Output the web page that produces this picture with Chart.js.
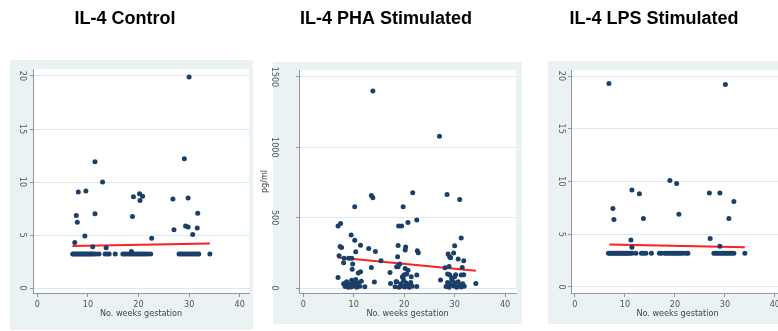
<!DOCTYPE html>
<html lang="en">
<head>
<meta charset="UTF-8">
<title>IL-4 | semanas de gestação</title>
<script src="https://cdn.jsdelivr.net/npm/chart.js"></script>
<style>
  body { margin: 0; background: #fff; width: 778px; height: 331px; overflow: hidden; position: relative; }
  .caixa { position: absolute; background: #eaf2f3; }
  canvas { position: absolute; top: 0; }
</style>
</head>
<body>
<div class="caixa" style="left:10px; top:60px; width:243px; height:270px"></div>
<div class="caixa" style="left:273px; top:62px; width:249px; height:262px"></div>
<div class="caixa" style="left:548px; top:61px; width:240px; height:263px"></div>
<canvas id="grafControle" width="253" height="331" style="left:0px"></canvas>
<canvas id="grafPHA" width="268" height="331" style="left:252px"></canvas>
<canvas id="grafLPS" width="268" height="331" style="left:520px"></canvas>

<script>
const xTicks = [0, 10, 20, 30, 40];
const ilTicks = [0, 5, 10, 15, 20];
const phaTicks = [0, 500, 1000, 1500];

const controleSemanas = [30.0, 29.05, 11.4, 12.9, 8.1, 9.6, 7.7, 7.9, 11.4, 9.4, 7.4, 10.95, 13.6, 19.0, 20.2, 20.8, 20.3, 18.8, 22.6, 18.6, 26.8, 29.8, 27.0, 29.3, 29.8, 31.7, 31.6, 30.7,
  7.0, 7.3, 7.6, 7.9, 8.2, 8.5, 8.8, 9.1, 9.4, 9.7, 10.0, 10.3, 10.6, 10.9, 11.2, 11.6, 12.2, 13.4, 13.8, 14.2, 15.4, 16.9, 17.3, 17.7, 18.2, 18.6, 19.0, 19.4, 19.8, 20.2, 20.6, 21.0, 21.4, 21.8, 22.4,
  28.0, 28.4, 28.8, 29.2, 29.6, 30.0, 30.4, 30.8, 31.2, 31.6, 31.9, 34.1];
const controleIL4 = [19.9, 12.2, 11.9, 10.0, 9.05, 9.15, 6.85, 6.2, 7.0, 4.9, 4.3, 3.9, 3.8, 8.6, 8.9, 8.65, 8.25, 6.75, 4.7, 3.45, 8.4, 8.5, 5.5, 5.85, 5.75, 7.05, 5.65, 5.05,
  3.2, 3.2, 3.2, 3.2, 3.2, 3.2, 3.2, 3.2, 3.2, 3.2, 3.2, 3.2, 3.2, 3.2, 3.2, 3.2, 3.2, 3.2, 3.2, 3.2, 3.2, 3.2, 3.2, 3.2, 3.2, 3.2, 3.2, 3.2, 3.2, 3.2, 3.2, 3.2, 3.2, 3.2, 3.2,
  3.2, 3.2, 3.2, 3.2, 3.2, 3.2, 3.2, 3.2, 3.2, 3.2, 3.2, 3.2];
const controleAjusteX = [6.95, 34.1];
const controleAjusteY = [3.96, 4.21];

const phaSemanas = [13.8, 27.0, 13.5, 13.8, 21.7, 28.5, 31.0, 10.2, 19.8, 6.9, 7.4, 18.9, 19.5, 20.75, 22.5, 9.5, 10.2, 31.3, 7.3, 7.6, 11.35, 12.97, 14.3, 10.4,
  18.8, 20.3, 20.2, 22.6, 22.8, 30.0, 29.8, 28.7, 29.0, 29.2, 7.1, 8.1, 9.0, 9.6, 8.0, 9.8, 9.7, 11.35, 10.9, 13.5, 18.7, 18.8, 18.5, 19.1, 15.4, 17.2,
  20.2, 20.75, 20.0, 19.65, 21.4, 22.5, 30.7, 31.8, 31.5, 28.1, 28.9, 29.0, 28.6, 30.2, 31.8, 31.3, 27.2, 6.9, 8.3, 8.8, 14.1, 12.2, 17.3, 18.2, 18.4, 34.2,
  8.0, 8.3, 8.6, 8.9, 9.2, 9.5, 9.8, 10.1, 10.4, 10.6, 10.9, 11.2, 11.5, 8.8, 9.6, 10.2,
  18.5, 19.0, 19.3, 19.6, 19.9, 20.1, 20.4, 20.7, 21.0, 21.3, 21.6, 22.5, 19.8, 20.5,
  28.3, 28.6, 28.9, 29.2, 29.5, 29.8, 30.1, 30.4, 30.7, 31.0, 31.3, 31.6, 31.9, 29.4, 30.0];
const phaIL4 = [1401, 1078, 658, 641, 677, 665, 630, 578, 578, 441, 458, 441, 441, 465, 483, 377, 340, 356, 295, 288, 304, 281, 259, 257,
  302, 292, 271, 264, 250, 300, 248, 241, 222, 215, 229, 212, 212, 212, 179, 170, 134, 116, 106, 146, 222, 151, 151, 170, 193, 111,
  139, 127, 94, 80, 80, 92, 207, 193, 146, 144, 153, 94, 99, 94, 94, 92, 57, 75, 33, 28, 42, 9, 33, 9, 45, 33,
  30, 10, 45, 5, 25, 8, 40, 15, 60, 5, 35, 12, 48, 20, 55, 30,
  45, 5, 30, 15, 50, 8, 35, 20, 5, 40, 12, 10, 70, 100,
  10, 40, 5, 25, 55, 15, 35, 5, 45, 20, 8, 30, 12, 70, 80];
const phaAjusteX = [6.9, 34.2];
const phaAjusteY = [217, 123];

const lpsSemanas = [6.8, 30.1, 7.6, 7.8, 11.4, 12.9, 13.7, 11.2, 11.4, 19.0, 20.35, 20.8, 26.9, 29.0, 31.8, 30.8, 27.05, 29.0,
  6.7, 7.0, 7.3, 7.7, 8.0, 8.3, 8.6, 8.9, 9.2, 9.5, 9.8, 10.1, 10.4, 10.7, 11.0, 11.4, 12.2, 13.3, 13.7, 14.2, 15.3, 16.9, 17.3, 18.0, 18.4, 18.8, 19.2, 19.6, 20.0, 20.4, 20.8, 21.2, 21.7, 22.3, 22.6,
  27.8, 28.2, 28.6, 29.0, 29.4, 29.8, 30.2, 30.6, 31.0, 31.4, 31.8, 34.0];
const lpsIL4 = [19.3, 19.2, 7.45, 6.4, 9.2, 8.85, 6.5, 4.45, 3.77, 10.1, 9.8, 6.9, 8.9, 8.9, 8.1, 6.5, 4.6, 3.87,
  3.2, 3.2, 3.2, 3.2, 3.2, 3.2, 3.2, 3.2, 3.2, 3.2, 3.2, 3.2, 3.2, 3.2, 3.2, 3.2, 3.2, 3.2, 3.2, 3.2, 3.2, 3.2, 3.2, 3.2, 3.2, 3.2, 3.2, 3.2, 3.2, 3.2, 3.2, 3.2, 3.2, 3.2, 3.2,
  3.2, 3.2, 3.2, 3.2, 3.2, 3.2, 3.2, 3.2, 3.2, 3.2, 3.2, 3.2];
const lpsAjusteX = [6.9, 34.0];
const lpsAjusteY = [4.03, 3.77];

const fonteEstreita = '"Liberation Sans Narrow", "DejaVu Sans Condensed", "Liberation Sans", Arial, sans-serif';
const corEixo = '#8e9aa2';

const fundoBranco = {
    id: 'fundoBranco',
    beforeDraw(chart) {
        const a = chart.chartArea;
        const ctx = chart.ctx;
        ctx.save();
        ctx.fillStyle = '#ffffff';
        ctx.fillRect(a.left, a.top, a.right - a.left, a.bottom - a.top);
        ctx.restore();
    }
};

function juntar(xs, ys) {
    return xs.map((x, i) => ({ x: x, y: ys[i] }));
}

function montarGrafico(id, p) {
    const ctx = document.getElementById(id).getContext('2d');
    new Chart(ctx, {
        type: 'scatter',
        data: {
            datasets: [{
                data: juntar(p.semanas, p.valores),
                backgroundColor: '#1a3f68',
                borderWidth: 0,
                pointRadius: 2.5
            }, {
                data: juntar(p.ajusteX, p.ajusteY),
                showLine: true,
                borderColor: '#ff2020',
                borderWidth: 2,
                pointRadius: 0
            }]
        },
        options: {
            responsive: false,
            animation: false,
            layout: { padding: { left: 0, right: p.direita, top: 0, bottom: 0 } },
            plugins: {
                legend: { display: false },
                tooltip: { enabled: false },
                title: {
                    display: true,
                    text: p.titulo,
                    color: '#000',
                    font: { size: 18, weight: 'bold', family: '"Liberation Sans", Arial, sans-serif' },
                    padding: { top: 8, bottom: p.tituloBaixo }
                }
            },
            scales: {
                x: {
                    type: 'linear',
                    min: p.xMin, max: p.xMax,
                    afterBuildTicks: s => { s.ticks = xTicks.map(v => ({ value: v })); },
                    afterFit: s => { s.height = 38; },
                    grid: { drawOnChartArea: false, tickColor: corEixo, tickLength: 4 },
                    border: { color: corEixo },
                    ticks: { color: '#555', padding: 2, maxRotation: 0, font: { size: 9, family: fonteEstreita }, callback: v => String(v) },
                    title: { display: true, text: 'No. weeks gestation', color: '#444', font: { size: 9, family: fonteEstreita }, padding: { top: 0, bottom: 12 } }
                },
                y: {
                    min: p.yMin, max: p.yMax,
                    afterBuildTicks: s => { s.ticks = p.yTicks.map(v => ({ value: v })); },
                    afterFit: s => { s.width = p.larguraY; },
                    grid: { color: '#dfe9ec', tickColor: corEixo, tickLength: 3 },
                    border: { color: corEixo },
                    ticks: { color: '#555', padding: p.yPad, minRotation: -90, maxRotation: -90, crossAlign: 'center', font: { size: 9, family: fonteEstreita }, callback: v => String(v) },
                    title: { display: !!p.yTitulo, text: p.yTitulo || '', color: '#444', font: { size: 9, family: fonteEstreita }, padding: { top: 7.6, bottom: 0 } }
                }
            }
        },
        plugins: [fundoBranco]
    });
}

montarGrafico('grafControle', {
    titulo: 'IL-4 Control', semanas: controleSemanas, valores: controleIL4,
    ajusteX: controleAjusteX, ajusteY: controleAjusteY, yTicks: ilTicks,
    xMin: -0.85, xMax: 41.83, yMin: -0.47, yMax: 20.66,
    larguraY: 33, yPad: 3, direita: 3, tituloBaixo: 39.4
});

montarGrafico('grafPHA', {
    titulo: 'IL-4 PHA Stimulated', semanas: phaSemanas, valores: phaIL4,
    ajusteX: phaAjusteX, ajusteY: phaAjusteY, yTicks: phaTicks, yTitulo: 'pg/ml',
    xMin: -0.84, xMax: 42.16, yMin: -35.4, yMax: 1549.5,
    larguraY: 47, yPad: 11, direita: 0, tituloBaixo: 40.4
});

montarGrafico('grafLPS', {
    titulo: 'IL-4 LPS Stimulated', semanas: lpsSemanas, valores: lpsIL4,
    ajusteX: lpsAjusteX, ajusteY: lpsAjusteY, yTicks: ilTicks,
    xMin: -0.79, xMax: 41.83, yMin: -0.57, yMax: 20.57,
    larguraY: 51, yPad: 2, direita: 0, tituloBaixo: 40.4
});
</script>
</body>
</html>
